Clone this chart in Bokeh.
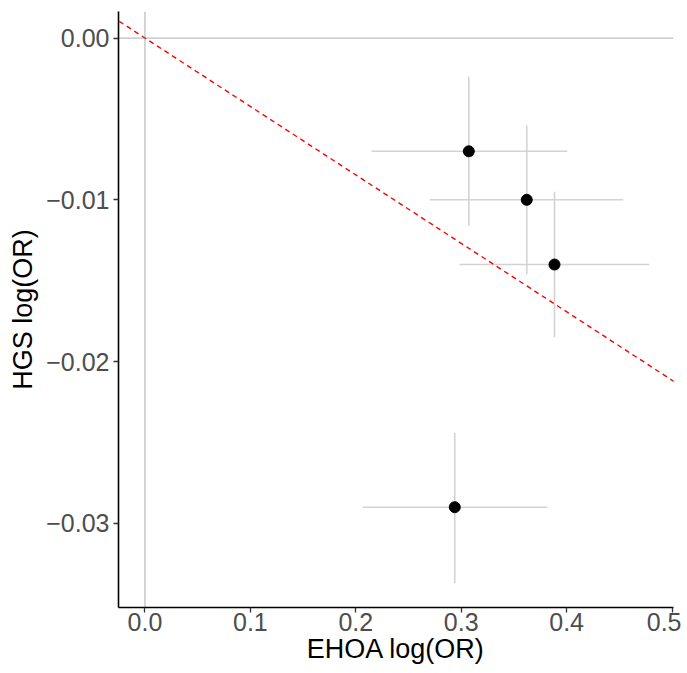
from bokeh.plotting import figure
from bokeh.models import ColumnDataSource, FixedTicker, CustomJSTickFormatter, Span, Slope, Range1d
from bokeh.embed import file_html
from bokeh.resources import INLINE

# ---- data ----
ehoa_logor = [0.3072, 0.3622, 0.3885, 0.2939]
ehoa_lo = [0.2149, 0.2702, 0.2984, 0.2066]
ehoa_hi = [0.4006, 0.4537, 0.4784, 0.3816]
hgs_logor = [-0.0070, -0.0100, -0.0140, -0.0290]
hgs_lo = [-0.0116, -0.0146, -0.0185, -0.0337]
hgs_hi = [-0.0024, -0.0054, -0.0095, -0.0244]
fit_slope = -0.0423
x_ticks = [0.0, 0.1, 0.2, 0.3, 0.4, 0.5]
y_ticks = [-0.03, -0.02, -0.01, 0.0]
x_title = "EHOA log(OR)"
y_title = "HGS log(OR)"

FONT = "Liberation Sans"

src = ColumnDataSource(dict(x=ehoa_logor, xlo=ehoa_lo, xhi=ehoa_hi,
                            y=hgs_logor, ylo=hgs_lo, yhi=hgs_hi))

p = figure(width=681, height=672, output_backend="svg", toolbar_location=None,
           x_range=Range1d(-0.0251, 0.5014), y_range=Range1d(-0.0352, 0.00164),
           min_border_left=118, min_border_right=8, min_border_top=11, min_border_bottom=65)
p.background_fill_color = "white"
p.border_fill_color = "white"
p.outline_line_color = None
p.xgrid.visible = False
p.ygrid.visible = False

# reference lines at zero
p.add_layout(Span(location=0, dimension="height", line_color="#BEBEBE", line_width=1.3, level="underlay"))
p.add_layout(Span(location=0, dimension="width", line_color="#BEBEBE", line_width=1.3, level="underlay"))

# error bars
p.segment(x0="xlo", x1="xhi", y0="y", y1="y", source=src, line_color="#D3D3D3", line_width=1.6)
p.segment(x0="x", x1="x", y0="ylo", y1="yhi", source=src, line_color="#D3D3D3", line_width=1.6)

# points
p.scatter(x="x", y="y", source=src, size=11, fill_color="black", line_color="black")

# fitted line through origin
p.add_layout(Slope(gradient=fit_slope, y_intercept=0, line_color="red", line_dash="5 4", line_width=1.4))

# axes
p.xaxis.ticker = FixedTicker(ticks=x_ticks)
p.yaxis.ticker = FixedTicker(ticks=y_ticks)
p.xaxis.formatter = CustomJSTickFormatter(code="return tick.toFixed(1).replace('-', '\u2212');")
p.yaxis.formatter = CustomJSTickFormatter(
    code="var s = tick.toFixed(2); if (Math.abs(tick) < 1e-12) { s = '0.00'; } return s.replace('-', '\u2212');")
p.xaxis.axis_label = x_title
p.yaxis.axis_label = y_title
for ax in (p.xaxis, p.yaxis):
    ax.axis_line_color = "black"
    ax.axis_line_width = 1.6
    ax.major_tick_line_color = "#333333"
    ax.major_tick_line_width = 1.3
    ax.major_tick_out = 5
    ax.major_tick_in = 0
    ax.minor_tick_line_color = None
    ax.major_label_text_font = FONT
    ax.major_label_text_font_size = "25px"
    ax.major_label_text_color = "#4D4D4D"
    ax.axis_label_text_font = FONT
    ax.axis_label_text_font_size = "27px"
    ax.axis_label_text_font_style = "normal"
    ax.axis_label_text_color = "black"
p.xaxis.major_label_standoff = 0
p.xaxis.axis_label_standoff = 0
p.yaxis.major_label_standoff = 4
p.yaxis.axis_label_standoff = 5

open("out.html", "w").write(file_html(p, INLINE))
